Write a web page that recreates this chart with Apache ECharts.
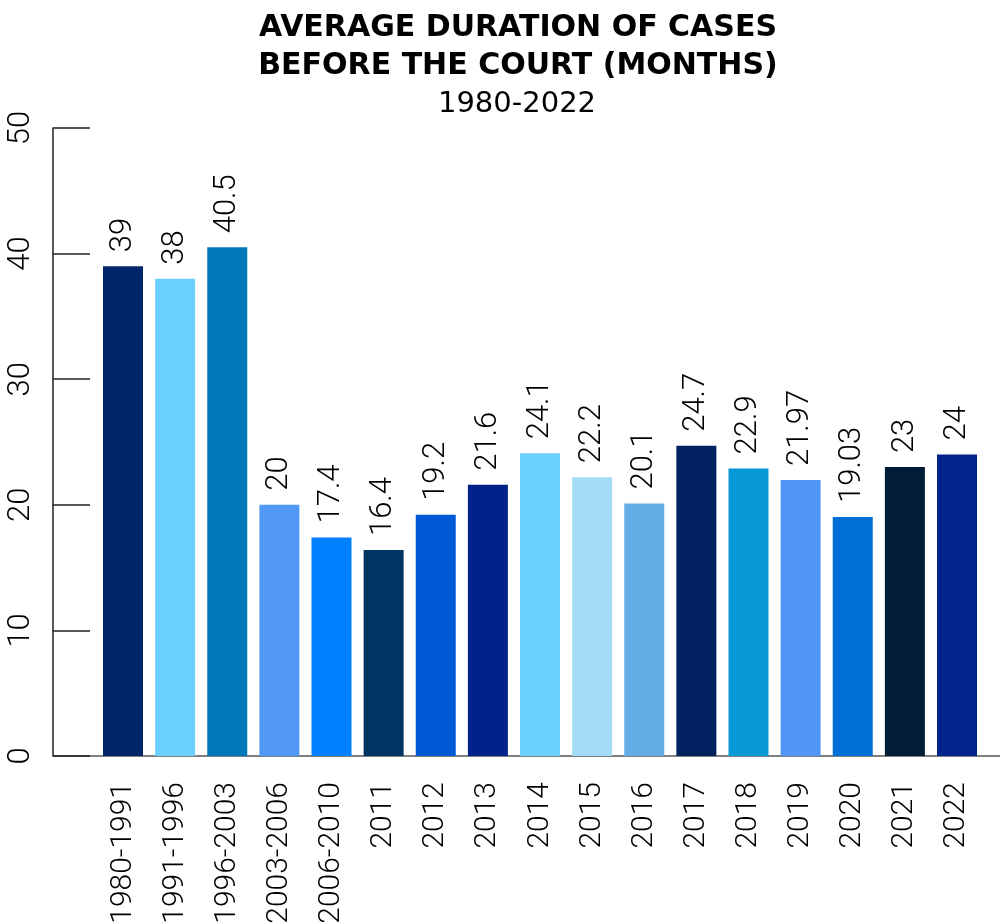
<!DOCTYPE html>
<html>
<head>
<meta charset="utf-8">
<script src="https://cdn.jsdelivr.net/npm/echarts@6/dist/echarts.min.js"></script>
<style>
  html, body { margin: 0; padding: 0; background: #fff; }
  #chart { width: 1000px; height: 922px; }
</style>
</head>
<body>
<div id="chart"></div>
<script>
  // periods on the x axis
  var periods = ['1980-1991', '1991-1996', '1996-2003', '2003-2006', '2006-2010',
    '2011', '2012', '2013', '2014', '2015', '2016', '2017', '2018', '2019',
    '2020', '2021', '2022'];
  // average duration in months
  var months = [39, 38, 40.5, 20, 17.4, 16.4, 19.2, 21.6, 24.1, 22.2, 20.1,
    24.7, 22.9, 21.97, 19.03, 23, 24];
  var yTicks = [0, 10, 20, 30, 40, 50];

  // one colour per bar
  var barColors = ['#00266a', '#6bd0ff', '#0079bb', '#5298f5', '#0080ff',
    '#003462', '#005ad6', '#002389', '#6bd0ff', '#a4dcf7', '#62ade3',
    '#002060', '#0799d6', '#5296f5', '#006fd8', '#001c36', '#00238c'];

  var narrow = 'Roboto, "Liberation Sans", sans-serif';
  var wide = '"DejaVu Sans", sans-serif';
  var chart = echarts.init(document.getElementById('chart'));

  var option = {
    animation: false,
    backgroundColor: '#fff',
    title: [{
      text: 'AVERAGE DURATION OF CASES\nBEFORE THE COURT (MONTHS)',
      left: 513,
      top: 4,
      textAlign: 'center',
      textStyle: { fontFamily: wide, fontWeight: 'bold', fontSize: 30, lineHeight: 38, color: '#000' }
    }, {
      text: '1980-2022',
      left: 512,
      top: 85,
      textAlign: 'center',
      textStyle: { fontFamily: wide, fontWeight: 'normal', fontSize: 29, color: '#000' }
    }],
    grid: { left: 53, right: 0, top: 128, bottom: 166, outerBoundsMode: 'none', containLabel: false },
    xAxis: {
      type: 'value',
      min: -1.343,
      max: 16.825,
      splitLine: { show: false },
      axisLine: { show: true, onZero: false, lineStyle: { color: '#555', width: 1.5 } },
      axisTick: { show: false },
      axisLabel: {
        customValues: periods.map(function (p, i) { return i; }),
        rotate: 90,
        margin: 26,
        fontFamily: narrow,
        fontWeight: 300,
        fontSize: 30,
        color: '#000',
        formatter: function (v) { return periods[v] || ''; }
      }
    },
    yAxis: {
      type: 'value',
      min: yTicks[0],
      max: yTicks[yTicks.length - 1],
      interval: 10,
      splitLine: { show: false },
      axisLine: { show: true, onZero: false, lineStyle: { color: '#222', width: 1.5 } },
      axisTick: { show: true, inside: true, length: 37, lineStyle: { color: '#222', width: 1.5 } },
      axisLabel: {
        rotate: 90,
        margin: 16,
        fontFamily: narrow,
        fontWeight: 300,
        fontSize: 31,
        color: '#000'
      }
    },
    series: [{
      type: 'bar',
      barWidth: 40,
      data: months.map(function (v, i) {
        return { value: [i, v], itemStyle: { color: barColors[i] } };
      }),
      label: {
        show: true,
        position: 'top',
        rotate: 90,
        align: 'left',
        verticalAlign: 'middle',
        distance: 14,
        fontFamily: narrow,
        fontWeight: 300,
        fontSize: 31,
        color: '#000',
        formatter: function (p) { return p.value[1]; }
      }
    }]
  };
  chart.setOption(option);
</script>
</body>
</html>
